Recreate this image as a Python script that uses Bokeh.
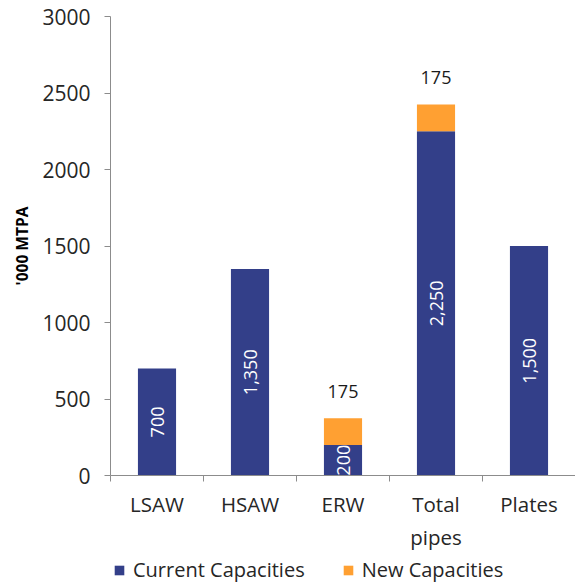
from bokeh.plotting import figure
from bokeh.layouts import column
from bokeh.models import ColumnDataSource, FixedTicker, Range1d, Legend, LegendItem
from bokeh.embed import file_html
from bokeh.resources import INLINE
from bokeh.core.properties import value
import math

categories = ["LSAW", "HSAW", "ERW", "Total\npipes", "Plates"]
current = [700, 1350, 200, 2250, 1500]
new = [0, 0, 175, 175, 0]
series_names = ["Current Capacities", "New Capacities"]
colors = ["#333F89", "#FFA032"]
y_ticks = [0, 500, 1000, 1500, 2000, 2500, 3000]

xs = [i + 0.5 for i in range(len(categories))]
src = ColumnDataSource(dict(
    x=xs, current=current, new=new,
    mid=[c / 2 for c in current],
    cur_lbl=[f"{c:,}" for c in current],
))
new_x = [x for x, n in zip(xs, new) if n > 0]
new_top = [c + n for c, n in zip(current, new) if n > 0]
new_lbl = [f"{n:,}" for n in new if n > 0]
src_new = ColumnDataSource(dict(x=new_x, top=new_top, lbl=new_lbl))

FONT = "Open Sans"

p = figure(width=575, height=554, output_backend="svg", toolbar_location=None,
           x_range=Range1d(0, 5), y_range=Range1d(0, 3000))
p.min_border_left = 110
p.min_border_right = 0
p.min_border_top = 16
p.min_border_bottom = 78
p.outline_line_color = None
p.grid.visible = False

rs = p.vbar_stack(["current", "new"], x="x", width=0.41, source=src, color=colors,
                  line_color=None)

p.text(x="x", y="mid", text="cur_lbl", source=src, angle=math.pi / 2,
       text_align="center", text_baseline="middle", text_color="white",
       text_font=value(FONT), text_font_size="18px")
p.text(x="x", y="top", text="lbl", source=src_new, y_offset=-20,
       text_align="center", text_baseline="bottom", text_color="#1a1a1a",
       text_font=value(FONT), text_font_size="18px")

# x axis
xa = p.xaxis[0]
xa.ticker = FixedTicker(ticks=xs, minor_ticks=list(range(len(categories) + 1)))
xa.major_label_overrides = {x: c for x, c in zip(xs, categories)}
xa.major_tick_out = 0
xa.major_tick_in = 0
xa.minor_tick_out = 6
xa.minor_tick_in = 0
xa.major_label_standoff = 8
xa.axis_line_color = "#8c8c8c"
xa.minor_tick_line_color = "#8c8c8c"
xa.major_label_text_font = FONT
xa.major_label_text_font_size = "20.5px"
xa.major_label_text_color = "#262626"

# y axis
ya = p.yaxis[0]
ya.ticker = FixedTicker(ticks=y_ticks, minor_ticks=[])
ya.major_tick_out = 6
ya.major_tick_in = 0
ya.minor_tick_out = 0
ya.minor_tick_in = 0
ya.major_label_standoff = 14
ya.axis_line_color = "#8c8c8c"
ya.major_tick_line_color = "#8c8c8c"
ya.major_label_text_font = FONT
ya.major_label_text_font_size = "21px"
ya.major_label_text_color = "#262626"
ya.axis_label = "'000 MTPA"
ya.axis_label_text_font = FONT
ya.axis_label_text_font_style = "bold"
ya.axis_label_text_font_size = "15.5px"
ya.axis_label_text_color = "#000000"
ya.axis_label_standoff = 6

# legend strip below the chart (swatch renderers sit outside the strip's range)
p2 = figure(width=575, height=29, output_backend="svg", toolbar_location=None,
            x_range=Range1d(0, 1), y_range=Range1d(0, 1), min_border=0)
p2.axis.visible = False
p2.grid.visible = False
p2.outline_line_color = None
swatches = [p2.vbar(x=[-5], top=[0], width=0.1, color=c, line_color=None) for c in colors]

lg = Legend(items=[LegendItem(label=n, renderers=[r]) for n, r in zip(series_names, swatches)])
lg.orientation = "horizontal"
lg.location = (3, 0)
lg.border_line_color = None
lg.background_fill_alpha = 0
lg.padding = 0
lg.margin = 0
lg.glyph_width = 12
lg.glyph_height = 12
lg.label_standoff = 8
lg.spacing = 37
lg.label_text_font = FONT
lg.label_text_font_size = "20px"
lg.label_text_color = "#262626"
p2.add_layout(lg)

open("out.html", "w").write(file_html(column(p, p2, spacing=0), INLINE))
